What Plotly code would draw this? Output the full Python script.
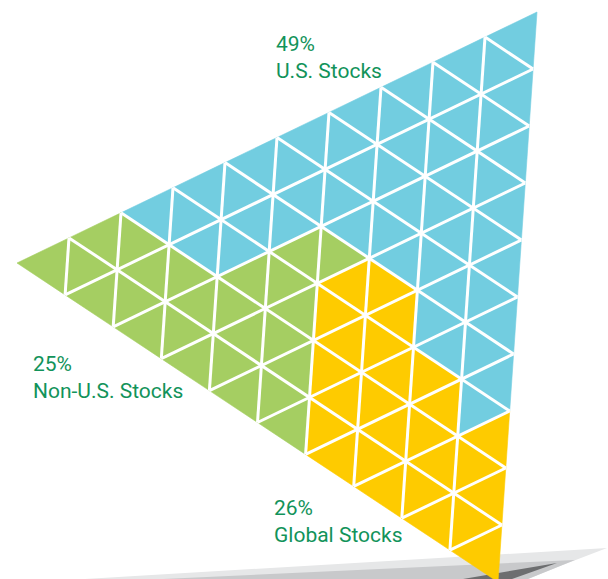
import plotly.graph_objects as go

# Portfolio split shown as a triangle made of 100 small tiles (1 tile = 1%)
segments = ["U.S. Stocks", "Non-U.S. Stocks", "Global Stocks"]
shares = [49, 25, 26]

# Tiles per lattice column (left tip -> right edge), stacked top to bottom
us_tiles_per_column = [0, 0, 1, 3, 4, 4, 5, 7, 11, 14]
non_us_tiles_per_column = [1, 3, 4, 4, 5, 7, 1, 0, 0, 0]
global_tiles_per_column = [0, 0, 0, 0, 0, 0, 7, 8, 6, 5]

tile_colors = ["#72CDE0", "#A5CE62", "#FECB00"]
text_color = "#12935A"

W, H = 608, 579
N = len(us_tiles_per_column)

# Corners of the big triangle (left tip, top-right tip, bottom tip)
P_LEFT = (17.0, 263.0)
P_TOP = (537.0, 12.0)
P_BOTTOM = (498.0, 582.0)


def lattice_point(i, j):
    x = P_LEFT[0] + (P_TOP[0] - P_LEFT[0]) * i / N + (P_BOTTOM[0] - P_LEFT[0]) * j / N
    y = P_LEFT[1] + (P_TOP[1] - P_LEFT[1]) * i / N + (P_BOTTOM[1] - P_LEFT[1]) * j / N
    return x, y


def tile_vertices(col, k):
    m = k // 2
    if k % 2 == 0:
        i, j = col - m, m
        pts = [(i, j), (i + 1, j), (i, j + 1)]
    else:
        i, j = col - 1 - m, m
        pts = [(i + 1, j), (i, j + 1), (i + 1, j + 1)]
    return [lattice_point(a, b) for a, b in pts]


fig = go.Figure()

# Ground shadow under the triangle
shadow_layers = [
    ("#E6E7E8", [(85, 579), (607, 548), (560, 566), (528, 579)]),
    ("#C8C9CB", [(163, 579), (575, 560), (528, 579)]),
    ("#6D6E70", [(463, 579), (557, 563), (512, 579)]),
]
for color, poly in shadow_layers:
    xs = [p[0] for p in poly] + [poly[0][0]]
    ys = [p[1] for p in poly] + [poly[0][1]]
    fig.add_trace(go.Scatter(x=xs, y=ys, mode="lines", fill="toself",
                             fillcolor=color, line=dict(width=0, color=color),
                             hoverinfo="skip", showlegend=False))

# Collect tiles for each segment
seg_x = [[], [], []]
seg_y = [[], [], []]
for col in range(N):
    order = ([0] * us_tiles_per_column[col]
             + [1] * non_us_tiles_per_column[col]
             + [2] * global_tiles_per_column[col])
    assert len(order) == 2 * col + 1
    for k, seg in enumerate(order):
        verts = tile_vertices(col, k)
        seg_x[seg] += [v[0] for v in verts] + [verts[0][0], None]
        seg_y[seg] += [v[1] for v in verts] + [verts[0][1], None]

for s in range(3):
    fig.add_trace(go.Scatter(x=seg_x[s], y=seg_y[s], mode="lines", fill="toself",
                             fillcolor=tile_colors[s],
                             line=dict(width=0.6, color=tile_colors[s]),
                             name=segments[s], hoverinfo="name", showlegend=False))

# White lattice lines between tiles
gx, gy = [], []
for k in range(1, N):
    for a, b in [((k, 0), (k, N - k)), ((0, k), (N - k, k)), ((k, 0), (0, k))]:
        p, q = lattice_point(*a), lattice_point(*b)
        gx += [p[0], q[0], None]
        gy += [p[1], q[1], None]
fig.add_trace(go.Scatter(x=gx, y=gy, mode="lines", line=dict(color="white", width=3),
                         hoverinfo="skip", showlegend=False))

# Labels: percentage on the first line, segment name below
label_pos = [(274, 30), (31, 350), (272, 494)]
font = dict(family="Roboto, Liberation Sans, sans-serif", size=21, color=text_color)
for s, (x0, y_top) in enumerate(label_pos):
    fig.add_annotation(x=x0, y=y_top, text=f"{shares[s]}%<br>{segments[s]}",
                       showarrow=False, align="left",
                       xanchor="left", yanchor="top", font=font)

fig.update_layout(
    width=W, height=H,
    margin=dict(l=0, r=0, t=0, b=0),
    paper_bgcolor="white", plot_bgcolor="white",
    xaxis=dict(range=[0, W], visible=False, fixedrange=True),
    yaxis=dict(range=[H, 0], visible=False, fixedrange=True),
    showlegend=False,
)

fig.write_html("out.html", config={"displayModeBar": False})
